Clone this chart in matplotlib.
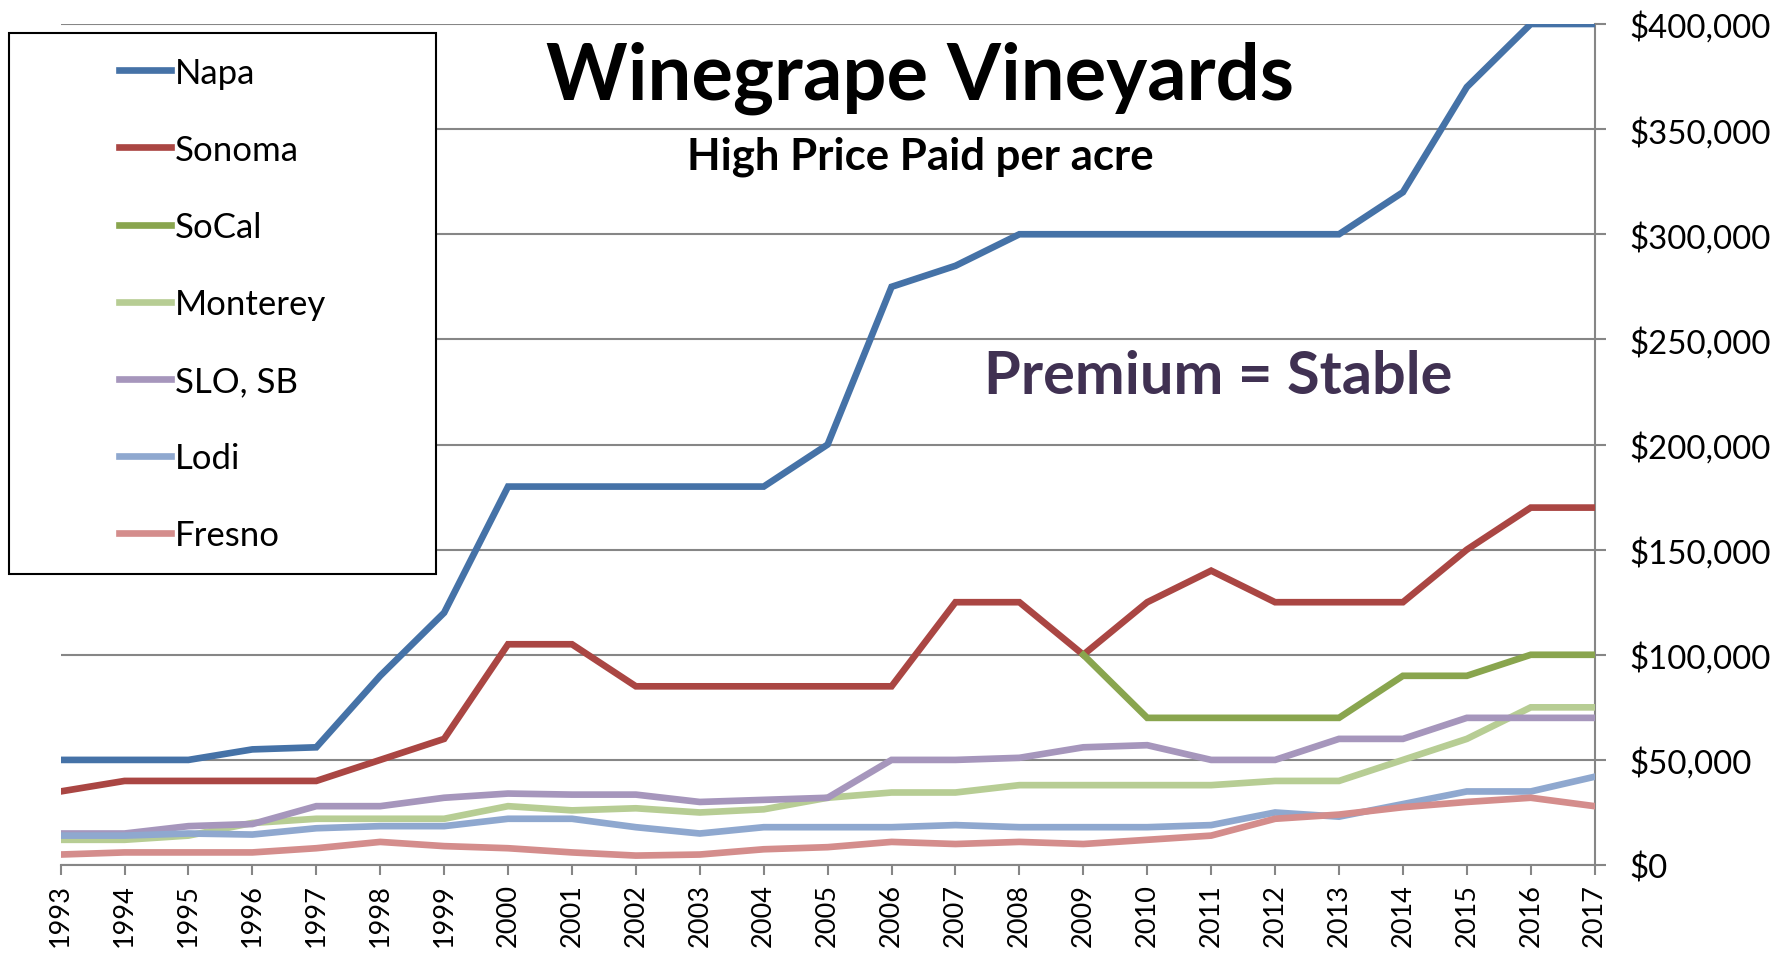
import numpy as np
import matplotlib
matplotlib.use("Agg")
import matplotlib.pyplot as plt
from matplotlib.ticker import FuncFormatter, MultipleLocator
from matplotlib.patches import Rectangle

plt.rcParams['font.family'] = ['Lato', 'DejaVu Sans']

# --- datos (miles de $ por acre) ---
years = np.arange(1993, 2018)
nan = np.nan
napa = [50, 50, 50, 55, 56, 90, 120, 180, 180, 180, 180, 180, 200, 275, 285,
        300, 300, 300, 300, 300, 300, 320, 370, 400, 400]
sonoma = [35, 40, 40, 40, 40, 50, 60, 105, 105, 85, 85, 85, 85, 85, 125,
          125, 100, 125, 140, 125, 125, 125, 150, 170, 170]
socal = [nan] * 16 + [100, 70, 70, 70, 70, 90, 90, 100, 100]
monterey = [12, 12, 14, 20, 22, 22, 22, 28, 26, 27, 25, 26.5, 32, 34.5, 34.5,
            38, 38, 38, 38, 40, 40, 50, 60, 75, 75]
slo_sb = [15, 15, 18.5, 19.5, 28, 28, 32, 34, 33.5, 33.5, 30, 31, 32, 50, 50,
          51, 56, 57, 50, 50, 60, 60, 70, 70, 70]
lodi = [14, 14, 15, 14.5, 17.5, 18.5, 18.5, 22, 22, 18, 15, 18, 18, 18, 19,
        18, 18, 18, 19, 25, 23, 29, 35, 35, 42]
fresno = [5, 6, 6, 6, 8, 11, 9, 8, 6, 4.5, 5, 7.5, 8.5, 11, 10, 11, 10, 12,
          14, 22, 24, 27.5, 30, 32, 28]

series = [
    ("Napa", napa, "#4572A7"),
    ("Sonoma", sonoma, "#AA4643"),
    ("SoCal", socal, "#89A54E"),
    ("Monterey", monterey, "#B7CD94"),
    ("SLO, SB", slo_sb, "#A696BC"),
    ("Lodi", lodi, "#8FA8CF"),
    ("Fresno", fresno, "#D48D8C"),
]

fig = plt.figure(figsize=(17.77, 9.54), dpi=100)
ax = fig.add_axes([0.0341, 0.0922, 0.8633, 0.8816])

grid_color = "#868686"
handles = []
for name, vals, color in series:
    h, = ax.plot(years, np.array(vals, dtype=float) * 1000, color=color,
                 lw=4.8, label=name, solid_joinstyle="miter", zorder=3)
    handles.append(h)

ax.set_xlim(1993, 2017)
ax.set_ylim(0, 400000)
ax.yaxis.set_major_locator(MultipleLocator(50000))
ax.yaxis.set_major_formatter(FuncFormatter(lambda v, p: f"${v:,.0f}"))
ax.yaxis.tick_right()
ax.set_xticks(years)
ax.set_xticklabels([str(y) for y in years], rotation=90, fontsize=19.5)
ax.tick_params(axis="x", direction="out", length=7, width=1.5,
               color=grid_color, pad=6)
ax.tick_params(axis="y", direction="out", length=8, width=1.5,
               color=grid_color, pad=17, labelsize=23.8)
ax.grid(axis="y", color=grid_color, lw=1.5, zorder=1)

for s in ["left", "top"]:
    ax.spines[s].set_visible(False)
for s in ["right", "bottom"]:
    ax.spines[s].set_color(grid_color)
    ax.spines[s].set_linewidth(1.5)

# titulos
fig.text(920 / 1777, 1 - 78 / 954, "Winegrape Vineyards", fontsize=56,
         fontweight="bold", ha="center", va="center")
fig.text(920 / 1777, 1 - 157 / 954, "High Price Paid per acre", fontsize=31.5,
         fontweight="bold", ha="center", va="center")
fig.text(1218 / 1777, 1 - 377 / 954, "Premium = Stable", fontsize=42.8,
         fontweight="bold", ha="center", va="center", color="#403152")

# leyenda con marco negro y fondo blanco
fig.patches.append(Rectangle((9 / 1777, 1 - 575 / 954), 427 / 1777, 541 / 954,
                             transform=fig.transFigure, facecolor="white",
                             edgecolor="black", lw=1.5, zorder=4))
leg = fig.legend(handles=handles, loc="upper left",
                 bbox_to_anchor=(119 / 1777, 1 - 57.5 / 954), frameon=False,
                 fontsize=25, handlelength=1.5, handletextpad=0.1,
                 labelspacing=1.30, borderpad=0, borderaxespad=0)
leg.set_zorder(5)

fig.savefig("out.png", dpi=100)
